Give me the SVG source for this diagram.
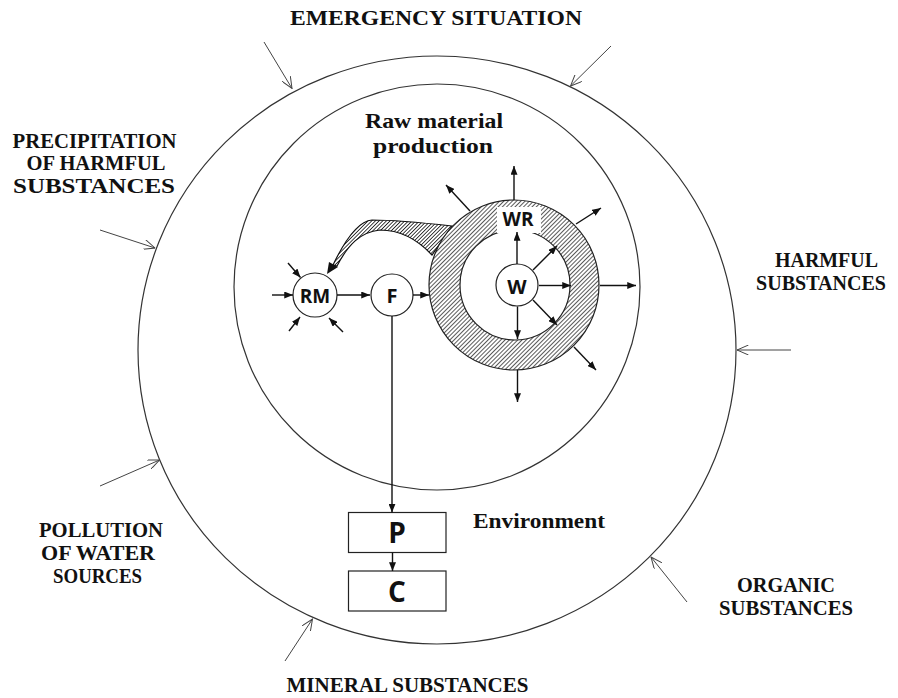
<svg xmlns="http://www.w3.org/2000/svg" width="898" height="698" viewBox="0 0 898 698">
<style>
.lbl{font-family:"Liberation Serif","Times New Roman",serif;font-weight:bold;font-size:21px;fill:#111;text-anchor:middle}
.nd{font-family:"Open Sans","Liberation Sans",sans-serif;font-weight:bold;fill:#111;text-anchor:middle}
.circ{fill:none;stroke:#333;stroke-width:1.2}
.node{fill:#fff;stroke:#222;stroke-width:1.2}
.arr{stroke:#111;stroke-width:1.4;fill:none;marker-end:url(#ah)}
.oarr{stroke:#444;stroke-width:1;fill:none;marker-end:url(#oh)}
</style>
<defs>
<pattern id="hatch" width="3" height="3" patternUnits="userSpaceOnUse" patternTransform="rotate(45)">
<rect width="3" height="3" fill="#fff"/>
<line x1="0" y1="0" x2="0" y2="3" stroke="#222" stroke-width="1.5"/>
</pattern>
<pattern id="hatch2" width="2.6" height="2.6" patternUnits="userSpaceOnUse" patternTransform="rotate(45)">
<rect width="2.6" height="2.6" fill="#fff"/>
<line x1="0" y1="0" x2="0" y2="2.6" stroke="#111" stroke-width="1.6"/>
</pattern>
<marker id="ah" viewBox="0 0 10 8" refX="10" refY="4" markerWidth="9" markerHeight="7" markerUnits="userSpaceOnUse" orient="auto">
<path d="M0,0 L10,4 L0,8 z" fill="#111"/>
</marker>
<marker id="oh" viewBox="0 0 12 10" refX="11.5" refY="5" markerWidth="12" markerHeight="10" markerUnits="userSpaceOnUse" orient="auto">
<path d="M0,0 L11.5,5 L0,10" fill="none" stroke="#444" stroke-width="1"/>
</marker>
</defs>
<rect width="898" height="698" fill="#fff"/>

<g id="environment">
<ellipse class="circ" cx="437" cy="350" rx="299" ry="294"/>
</g>
<g id="raw-material-production">
<circle class="circ" cx="437" cy="287" r="203"/>
</g>

<g id="band">
<path d="M452,226 C425,223 395,220 372,220 C358,221 345,240 333,265 L337,266 C348,245 360,232 380,230 C400,230 418,240 432,255 Z" fill="url(#hatch2)" stroke="#111" stroke-width="1.2"/>
<polygon points="327,274 329,262 338,267" fill="#111"/>
</g>

<g id="WR">
<path d="M429,285 a85,85 0 1,0 170,0 a85,85 0 1,0 -170,0 Z M460,285 a55,55 0 1,0 110,0 a55,55 0 1,0 -110,0 Z" fill="url(#hatch)" fill-rule="evenodd" stroke="#222" stroke-width="1.2"/>
<rect x="497" y="207" width="44" height="26" fill="#fff"/>
<text class="nd" x="518" y="226" font-size="19">WR</text>
</g>

<g id="W">
<circle class="node" cx="517" cy="285" r="21"/>
<text class="nd" x="517" y="293.5" font-size="20">W</text>
</g>
<g id="RM">
<circle class="node" cx="315" cy="295" r="22"/>
<text class="nd" x="315" y="302.5" font-size="19">RM</text>
</g>
<g id="F">
<circle class="node" cx="392" cy="295" r="21"/>
<text class="nd" x="392" y="302.5" font-size="20">F</text>
</g>
<g id="P">
<rect class="node" x="348.5" y="512.5" width="97.5" height="40"/>
<text class="nd" x="397" y="543" font-size="28">P</text>
</g>
<g id="C">
<rect class="node" x="348.5" y="571" width="97.5" height="40"/>
<text class="nd" x="397" y="601.5" font-size="28">C</text>
</g>

<g id="connectors">
<line class="arr" x1="514" y1="200" x2="514" y2="166"/>
<line class="arr" x1="470" y1="211" x2="446" y2="185"/>
<line class="arr" x1="576" y1="224" x2="601" y2="208"/>
<line class="arr" x1="600" y1="285.5" x2="636" y2="285.5"/>
<line class="arr" x1="574" y1="347" x2="596" y2="370"/>
<line class="arr" x1="517.5" y1="370" x2="517.5" y2="402"/>
<line class="arr" x1="517" y1="264" x2="517" y2="232"/>
<line class="arr" x1="533" y1="270" x2="557" y2="246"/>
<line class="arr" x1="539" y1="285.5" x2="571" y2="285.5"/>
<line class="arr" x1="533" y1="300" x2="557" y2="325"/>
<line class="arr" x1="517.5" y1="306.5" x2="517.5" y2="339"/>
<line class="arr" x1="272" y1="295" x2="293" y2="295"/>
<line class="arr" x1="288" y1="263" x2="300.5" y2="277.5"/>
<line class="arr" x1="289" y1="331" x2="300" y2="317"/>
<line class="arr" x1="343" y1="332" x2="329" y2="318"/>
<line class="arr" x1="337" y1="295" x2="370" y2="295"/>
<line class="arr" x1="413" y1="295" x2="429" y2="295"/>
<line class="arr" x1="392" y1="316" x2="392" y2="512.5"/>
<line class="arr" x1="392.5" y1="552.5" x2="392.5" y2="571"/>
<line class="oarr" x1="264" y1="42" x2="292" y2="88.5"/>
<line class="oarr" x1="611" y1="46" x2="570.5" y2="86"/>
<line class="oarr" x1="100" y1="230" x2="155" y2="248"/>
<line class="oarr" x1="791" y1="350" x2="737" y2="350"/>
<line class="oarr" x1="100" y1="486" x2="159.5" y2="460"/>
<line class="oarr" x1="285" y1="661" x2="312.5" y2="619"/>
<line class="oarr" x1="687" y1="602" x2="651" y2="557"/>
</g>

<g id="labels">
<text class="lbl" x="436" y="25" textLength="292" lengthAdjust="spacingAndGlyphs" font-size="22">EMERGENCY SITUATION</text>
<text class="lbl" x="94.5" y="148" textLength="164" lengthAdjust="spacingAndGlyphs">PRECIPITATION</text>
<text class="lbl" x="96" y="170" textLength="139" lengthAdjust="spacingAndGlyphs">OF HARMFUL</text>
<text class="lbl" x="94" y="192.5" textLength="162" lengthAdjust="spacingAndGlyphs">SUBSTANCES</text>
<text class="lbl" x="434" y="128" textLength="138" lengthAdjust="spacingAndGlyphs" font-size="22">Raw material</text>
<text class="lbl" x="433" y="153" textLength="120" lengthAdjust="spacingAndGlyphs" font-size="22">production</text>
<text class="lbl" x="826.5" y="267" textLength="103" lengthAdjust="spacingAndGlyphs">HARMFUL</text>
<text class="lbl" x="821" y="290" textLength="130" lengthAdjust="spacingAndGlyphs">SUBSTANCES</text>
<text class="lbl" x="101" y="536.5" textLength="124" lengthAdjust="spacingAndGlyphs">POLLUTION</text>
<text class="lbl" x="98" y="560" textLength="114" lengthAdjust="spacingAndGlyphs">OF WATER</text>
<text class="lbl" x="97.5" y="582.5" textLength="89" lengthAdjust="spacingAndGlyphs">SOURCES</text>
<text class="lbl" x="786" y="591.5" textLength="98" lengthAdjust="spacingAndGlyphs">ORGANIC</text>
<text class="lbl" x="786" y="615" textLength="134" lengthAdjust="spacingAndGlyphs">SUBSTANCES</text>
<text class="lbl" x="539" y="528" textLength="132" lengthAdjust="spacingAndGlyphs" font-size="22">Environment</text>
<text class="lbl" x="407.5" y="692" textLength="242" lengthAdjust="spacingAndGlyphs">MINERAL SUBSTANCES</text>
</g>
</svg>
